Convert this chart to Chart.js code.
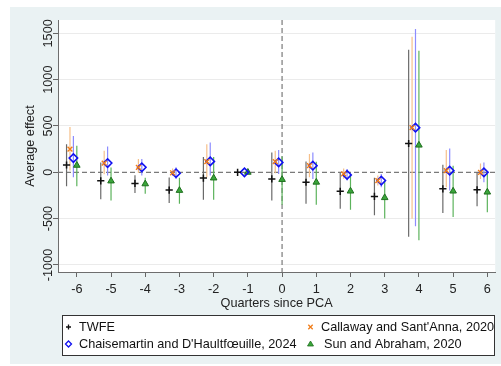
<!DOCTYPE html>
<html>
<head>
<meta charset="utf-8">
<script src="https://cdn.jsdelivr.net/npm/chart.js@4.4.1/dist/chart.umd.min.js"></script>
<style>
  html, body { margin: 0; padding: 0; background: #ffffff; }
  canvas { display: block; }
</style>
</head>
<body>
<canvas id="c" width="501" height="366"></canvas>
<script>
// ---------- data ----------
const quarters = [-6, -5, -4, -3, -2, -1, 0, 1, 2, 3, 4, 5, 6];
const yTickValues = [-1000, -500, 0, 500, 1000, 1500];
const seriesNames = ["TWFE", "Callaway and Sant'Anna, 2020", "Chaisemartin and D'Haultfœuille, 2024", "Sun and Abraham, 2020"];

const twfe   = [79, -92, -120, -192, -62, 0, -71, -107, -205, -260, 311, -178, -189];
const twfeLo = [-150, -292, -223, -332, -296, null, -303, -339, -392, -464, -696, -439, -367];
const twfeHi = [304, 107, -32, -56, 164, null, 214, 118, -5, -60, 1322, 82, 0];

const cs   = [250, 100, 54, -5, 115, null, 115, 72, -17, -89, 482, 18, 0];
const csLo = [20, -20, -7, -40, -53, null, -10, -53, -70, -142, -500, -160, -71];
const csHi = [490, 232, 143, 40, 304, null, 232, 197, 40, -35, 1464, 240, 96];

const dcdh   = [154, 100, 54, -10, 118, 0, 107, 72, -28, -89, 482, 18, 0];
const dcdhLo = [-53, -35, -35, -71, -35, null, -17, -71, -89, -160, -582, -196, -107];
const dcdhHi = [393, 278, 143, 54, 321, null, 240, 214, 36, -17, 1546, 257, 107];

const sa   = [75, -94, -125, -196, -62, 0, -78, -107, -203, -274, 293, -203, -214];
const saLo = [-150, -303, -232, -339, -296, null, -350, -350, -403, -499, -732, -482, -430];
const saHi = [286, 52, -60, -60, 164, null, 170, 115, -17, -89, 1311, 72, -17];

// ---------- helpers ----------
function pts(vals, off) {
  const out = [];
  quarters.forEach((q, i) => { if (vals[i] !== null) out.push({ x: q + off, y: vals[i] }); });
  return out;
}
function ci(lo, hi, off) {
  const out = [];
  quarters.forEach((q, i) => {
    if (lo[i] === null || hi[i] === null) return;
    out.push({ x: q + off, y: lo[i] }, { x: q + off, y: hi[i] }, { x: q + off, y: null });
  });
  return out;
}

const FONT = "'Liberation Sans', Arial, sans-serif";
const FS = 12.7;

const style = {
  twfe: { off: -0.3, ci: '#6a6a6a', mk: '#111111', fill: '#111111', ps: 'cross', r: 3.6, bw: 1.5 },
  cs:   { off: -0.2, ci: '#f6c08a', mk: '#f07d1a', fill: '#f07d1a', ps: 'crossRot', r: 3.4, bw: 1.4 },
  dcdh: { off: -0.1, ci: '#8c8cff', mk: '#1010f0', fill: 'rgba(0,0,0,0)', ps: 'rectRot', r: 4.2, bw: 1.6 },
  sa:   { off:  0.0, ci: '#5cb35c', mk: '#1f6f1f', fill: '#3aa63a', ps: 'triangle', r: 3.8, bw: 1 }
};

function ciSet(lo, hi, s) {
  return { type: 'line', data: ci(lo, hi, s.off), borderColor: s.ci, borderWidth: 1.2,
           pointRadius: 0, spanGaps: false, fill: false, order: 2 };
}
function mkSet(label, vals, s) {
  return { type: 'scatter', label: label, data: pts(vals, s.off), pointStyle: s.ps, pointRadius: s.r,
           borderColor: s.mk, backgroundColor: s.fill, pointBorderWidth: s.bw, borderWidth: s.bw,
           showLine: false, order: 1 };
}

// ---------- plugins ----------
const backgroundPlugin = {
  id: 'bg',
  beforeDraw(chart) {
    const ctx = chart.ctx, a = chart.chartArea;
    ctx.save();
    ctx.fillStyle = '#ffffff';
    ctx.fillRect(0, 0, chart.width, chart.height);
    ctx.fillStyle = '#eaf2f3';
    ctx.fillRect(10, 7, chart.width - 10, 357);
    ctx.fillStyle = '#ffffff';
    ctx.fillRect(a.left, a.top, a.right - a.left, a.bottom - a.top);
    ctx.restore();
  }
};

const refLinesPlugin = {
  id: 'refLines',
  beforeDatasetsDraw(chart) {
    const ctx = chart.ctx, a = chart.chartArea;
    const x0 = chart.scales.x.getPixelForValue(0);
    const y0 = chart.scales.y.getPixelForValue(0);
    ctx.save();
    ctx.strokeStyle = '#7a7a7a';
    ctx.lineWidth = 1.2;
    ctx.setLineDash([5, 3]);
    ctx.beginPath();
    ctx.moveTo(a.left, y0); ctx.lineTo(a.right, y0);
    ctx.moveTo(x0, a.top); ctx.lineTo(x0, a.bottom);
    ctx.stroke();
    ctx.restore();
  }
};

function drawMarker(ctx, kind, x, y) {
  ctx.save();
  ctx.beginPath();
  if (kind === 'twfe') {
    ctx.strokeStyle = '#111'; ctx.lineWidth = 1.3;
    ctx.moveTo(x - 2.5, y); ctx.lineTo(x + 2.5, y);
    ctx.moveTo(x, y - 2.5); ctx.lineTo(x, y + 2.5);
    ctx.stroke();
  } else if (kind === 'cs') {
    ctx.strokeStyle = '#f07d1a'; ctx.lineWidth = 1.3;
    ctx.moveTo(x - 2.2, y - 2.2); ctx.lineTo(x + 2.2, y + 2.2);
    ctx.moveTo(x - 2.2, y + 2.2); ctx.lineTo(x + 2.2, y - 2.2);
    ctx.stroke();
  } else if (kind === 'dcdh') {
    ctx.strokeStyle = '#1010f0'; ctx.lineWidth = 1.3;
    ctx.moveTo(x, y - 3); ctx.lineTo(x + 3, y); ctx.lineTo(x, y + 3); ctx.lineTo(x - 3, y); ctx.closePath();
    ctx.stroke();
  } else {
    ctx.fillStyle = '#3aa63a'; ctx.strokeStyle = '#1f6f1f'; ctx.lineWidth = 0.8;
    ctx.moveTo(x, y - 3); ctx.lineTo(x + 3, y + 2); ctx.lineTo(x - 3, y + 2); ctx.closePath();
    ctx.fill(); ctx.stroke();
  }
  ctx.restore();
}

const legendPlugin = {
  id: 'customLegend',
  afterDraw(chart) {
    const ctx = chart.ctx;
    ctx.save();
    ctx.fillStyle = '#ffffff';
    ctx.fillRect(62.5, 315.5, 432, 40);
    ctx.strokeStyle = '#333333';
    ctx.lineWidth = 1;
    ctx.strokeRect(62.5, 315.5, 432, 40);
    ctx.fillStyle = '#111111';
    ctx.font = FS + 'px ' + FONT;
    ctx.textBaseline = 'middle';
    ctx.textAlign = 'left';
    const items = [
      { k: 'twfe', name: seriesNames[0], mx: 68.5, tx: 79, y: 327 },
      { k: 'cs',   name: seriesNames[1], mx: 310.5, tx: 321, y: 327 },
      { k: 'dcdh', name: seriesNames[2], mx: 68.5, tx: 79, y: 344 },
      { k: 'sa',   name: seriesNames[3], mx: 310.5, tx: 324, y: 344 }
    ];
    items.forEach(it => {
      drawMarker(ctx, it.k, it.mx, it.y);
      ctx.fillStyle = '#111111';
      ctx.fillText(it.name, it.tx, it.y + 0.5);
    });
    ctx.restore();
  }
};

// ---------- chart ----------
new Chart(document.getElementById('c'), {
  type: 'scatter',
  data: {
    datasets: [
      mkSet(seriesNames[0], twfe, style.twfe),
      mkSet(seriesNames[1], cs, style.cs),
      mkSet(seriesNames[2], dcdh, style.dcdh),
      mkSet(seriesNames[3], sa, style.sa),
      ciSet(twfeLo, twfeHi, style.twfe),
      ciSet(csLo, csHi, style.cs),
      ciSet(dcdhLo, dcdhHi, style.dcdh),
      ciSet(saLo, saHi, style.sa)
    ]
  },
  options: {
    responsive: false,
    animation: false,
    events: [],
    layout: { padding: { left: 0, top: 20, right: 2, bottom: 54 } },
    plugins: { legend: { display: false }, tooltip: { enabled: false } },
    scales: {
      x: {
        type: 'linear',
        min: -6.55,
        max: 6.23,
        afterBuildTicks: s => { s.ticks = quarters.map(v => ({ value: v })); },
        afterFit: s => { s.height = 40; },
        grid: { drawOnChartArea: false, drawTicks: true, tickLength: 5, tickColor: '#666666', tickWidth: 1 },
        border: { display: true, color: '#6e6e6e', width: 1 },
        ticks: { color: '#222222', font: { family: FONT, size: FS }, padding: 5, maxRotation: 0, autoSkip: false,
                 callback: v => String(v) },
        title: { display: true, text: 'Quarters since PCA', color: '#222222',
                 font: { family: FONT, size: FS }, padding: { top: 0, bottom: 1 } }
      },
      y: {
        type: 'linear',
        min: -1076,
        max: 1644,
        afterBuildTicks: s => { s.ticks = yTickValues.map(v => ({ value: v })); },
        afterFit: s => { s.width = 58; },
        grid: {
          color: c => (c.tick && c.tick.value === 0) ? 'rgba(0,0,0,0)' : '#ebebeb',
          lineWidth: 1, drawTicks: true, tickLength: 5, tickColor: '#666666', tickWidth: 1
        },
        border: { display: true, color: '#6e6e6e', width: 1 },
        ticks: { color: '#222222', font: { family: FONT, size: FS }, minRotation: 90, maxRotation: 90,
                 crossAlign: 'center', padding: -11.5, autoSkip: false, callback: v => String(v) },
        title: { display: true, text: 'Average effect', color: '#222222',
                 font: { family: FONT, size: FS }, padding: { top: 23, bottom: 0 } }
      }
    }
  },
  plugins: [backgroundPlugin, refLinesPlugin, legendPlugin]
});
</script>
</body>
</html>
